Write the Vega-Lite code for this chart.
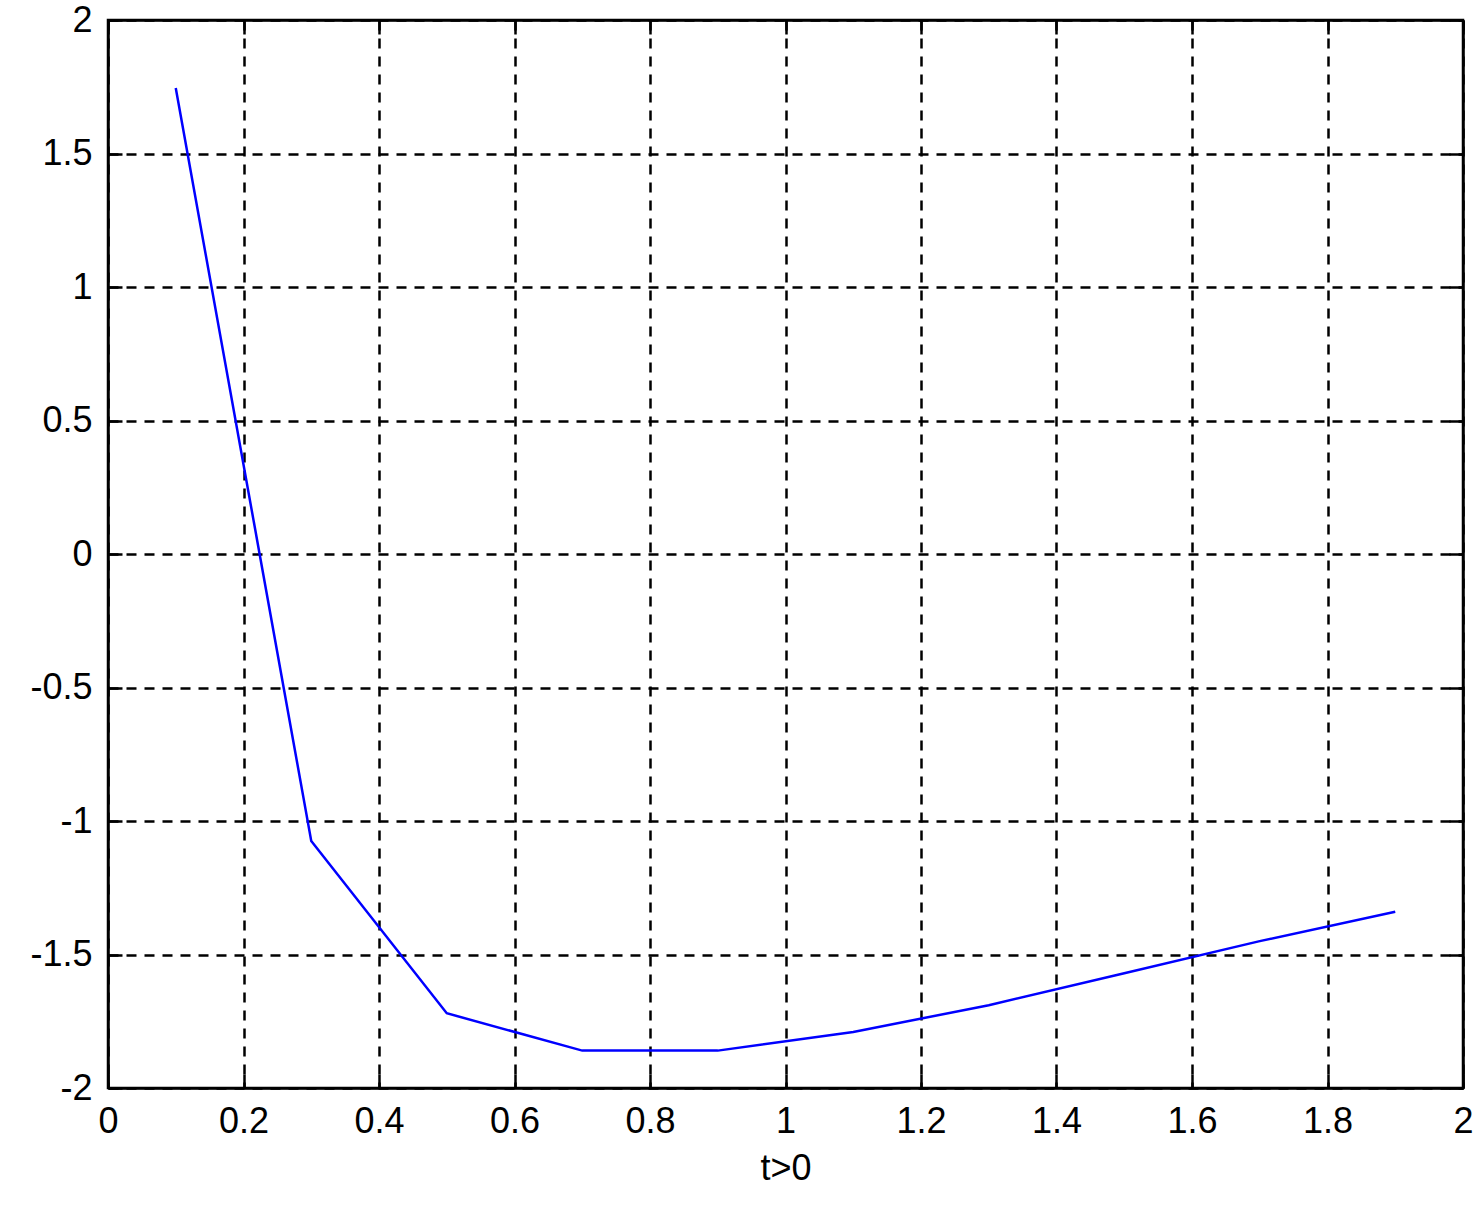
{
  "$schema": "https://vega.github.io/schema/vega-lite/v6.json",
  "width": 1355,
  "height": 1068,
  "autosize": {"type": "none"},
  "padding": {"left": 108, "top": 20, "right": 20, "bottom": 127},
  "background": "white",
  "config": {
    "view": {"stroke": "black", "strokeWidth": 2.5},
    "axis": {
      "domainColor": "black", "domainWidth": 2.5,
      "tickColor": "black", "tickWidth": 2.5, "tickSize": -14,
      "gridColor": "black", "gridWidth": 2.5, "gridDash": [10, 8], "gridOpacity": 1,
      "labelFont": "Liberation Sans", "labelFontSize": 36, "labelColor": "black",
      "titleFont": "Liberation Sans", "titleFontSize": 36, "titleFontWeight": "normal", "titleColor": "black",
      "labelFlush": false, "labelOverlap": false
    }
  },
  "data": {"values": [
    {"t": 0.1, "y": 1.745},
    {"t": 0.3, "y": -1.075},
    {"t": 0.5, "y": -1.72},
    {"t": 0.7, "y": -1.86},
    {"t": 0.9, "y": -1.86},
    {"t": 1.1, "y": -1.79},
    {"t": 1.3, "y": -1.69},
    {"t": 1.5, "y": -1.57},
    {"t": 1.7, "y": -1.45},
    {"t": 1.9, "y": -1.34}
  ]},
  "layer": [
    {
      "mark": {"type": "line", "color": "#0000ff", "strokeWidth": 2.5},
      "encoding": {
        "x": {"field": "t", "type": "quantitative", "scale": {"domain": [0, 2], "nice": false},
          "axis": {"orient": "bottom", "values": [0, 0.2, 0.4, 0.6, 0.8, 1, 1.2, 1.4, 1.6, 1.8, 2], "labelExpr": "'' + datum.value", "title": "t>0", "labelPadding": 30, "titlePadding": 12}},
        "y": {"field": "y", "type": "quantitative", "scale": {"domain": [-2, 2], "nice": false, "zero": false},
          "axis": {"orient": "left", "values": [-2, -1.5, -1, -0.5, 0, 0.5, 1, 1.5, 2], "labelExpr": "'' + datum.value", "title": null, "labelPadding": 30}}
      }
    },
    {
      "mark": {"type": "line", "opacity": 0},
      "encoding": {
        "x": {"field": "t", "type": "quantitative",
          "axis": {"orient": "top", "values": [0, 0.2, 0.4, 0.6, 0.8, 1, 1.2, 1.4, 1.6, 1.8, 2], "labels": false, "grid": false, "title": null}},
        "y": {"field": "y", "type": "quantitative",
          "axis": {"orient": "right", "values": [-2, -1.5, -1, -0.5, 0, 0.5, 1, 1.5, 2], "labels": false, "grid": false, "title": null}}
      }
    }
  ],
  "resolve": {"axis": {"x": "independent", "y": "independent"}}
}
